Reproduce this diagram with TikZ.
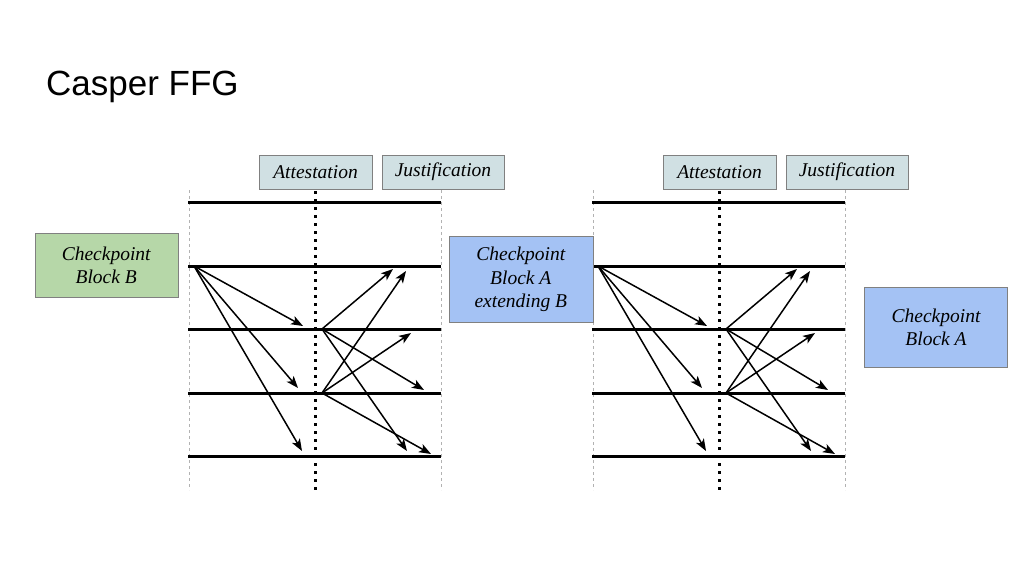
\documentclass[tikz,border=0pt]{standalone}
\usepackage{fontspec}
\setmainfont{Liberation Serif}
\newfontfamily\titlefont{Liberation Sans}
\usetikzlibrary{arrows.meta}

\definecolor{tagfill}{HTML}{D0E0E3}
\definecolor{greenblk}{HTML}{B6D7A8}
\definecolor{blueblk}{HTML}{A4C2F4}
\definecolor{edgegray}{HTML}{808080}

\tikzset{
  tagbox/.style={draw=edgegray, fill=tagfill, inner sep=0, minimum height=34,
    font=\fontsize{19.5}{23}\selectfont\itshape},
  blockbox/.style={draw=edgegray, inner sep=0, align=center,
    font=\fontsize{19.5}{23.5}\selectfont\itshape},
  slot/.style={line width=3},
  epochline/.style={line width=3, dash pattern=on 3 off 5},
  guide/.style={gray!60, line width=0.6, dash pattern=on 3 off 3},
  msg/.style={line width=1.5, -{Stealth[length=12,width=9,inset=3]}}
}

\begin{document}
\begin{tikzpicture}[x=1pt,y=-1pt]
  \useasboundingbox (0,0) rectangle (1024,576);

  \node[font=\titlefont\fontsize{35}{40}\selectfont, inner sep=0, anchor=base west] (title) at (46,95) {Casper FFG};

  % the two vote diagrams
  \foreach \dx/\sd in {0/l,404/r}{
    \begin{scope}[shift={(\dx,0)}]
      \node[tagbox, minimum width=113] (\sd-att) at (315.5,172) {Attestation};
      \node[tagbox, minimum width=122] (\sd-just) at (443,172) {Justification};

      \draw[guide] (189,190) -- (189,490);
      \draw[guide] (441,190) -- (441,490);
      \foreach \y in {202,266,329,393,456}
        \draw[slot] (188,\y) -- (441,\y);
      \draw[epochline] (315,191) -- (315,490);

      \coordinate (\sd-b) at (194,266);
      \coordinate (\sd-c) at (322,329);
      \coordinate (\sd-d) at (322,393);
      \foreach \s/\ex/\ey [count=\k] in {b/303/326, b/298/388, b/302/451,
          c/393/269, c/424/390, c/407/451, d/406/271, d/411/333, d/431/454}{
        \coordinate (\sd-e\k) at (\ex,\ey);
        \draw[msg] (\sd-\s) -- (\sd-e\k);
      }
    \end{scope}
  }

  \node[blockbox, fill=greenblk, minimum width=143, minimum height=64] (blockB) at (106.2,265.3) {Checkpoint\\Block B};
  \node[blockbox, fill=blueblk, minimum width=144, minimum height=86] (blockAB) at (520.8,279.5) {Checkpoint\\Block A\\extending B};
  \node[blockbox, fill=blueblk, minimum width=143, minimum height=80] (blockA) at (936,327.5) {Checkpoint\\Block A};
\end{tikzpicture}
\end{document}
